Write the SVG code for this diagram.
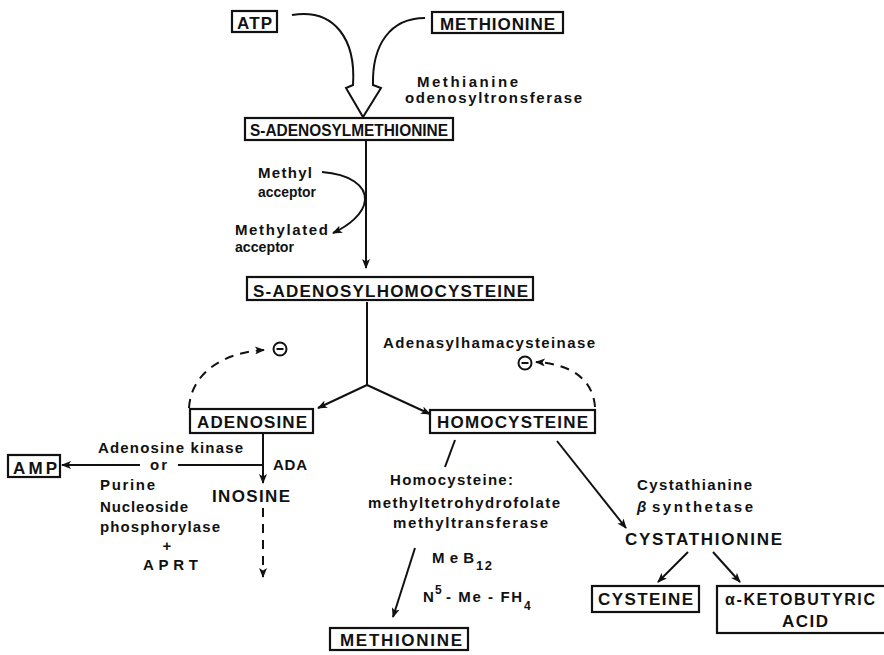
<svg xmlns="http://www.w3.org/2000/svg" width="884" height="655" viewBox="0 0 884 655">
<defs>
<style>
.bx{fill:#fff;stroke:#111;stroke-width:2.2}
.t{font-family:"Liberation Sans",Arial,sans-serif;font-weight:bold;fill:#111}
.bt{font-size:17px}
.lt{font-size:15px}
.ln{fill:none;stroke:#111;stroke-width:2}
.ds{fill:none;stroke:#111;stroke-width:2;stroke-dasharray:9,7}
</style>
<marker id="ah" viewBox="0 0 10 8" refX="9" refY="4" markerWidth="11" markerHeight="8" markerUnits="userSpaceOnUse" orient="auto">
<path d="M0,0 L10,4 L0,8 L2.5,4 Z" fill="#111"/>
</marker>
</defs>
<rect width="884" height="655" fill="#fff"/>

<g id="connectors">
<path class="ln" d="M292,15 C335,8 356,40 353,85 L346,88 L363,117 L381,88 L373,85 C372,45 390,18 425,18"/>
<path class="ln" d="M366,141 L366,268" marker-end="url(#ah)"/>
<path class="ln" d="M322,172 C350,174 366,186 365,200 C364,214 348,226 333,233" marker-end="url(#ah)"/>
<path class="ln" d="M367,302 L367,385"/>
<path class="ln" d="M367,385 L318,408" marker-end="url(#ah)"/>
<path class="ln" d="M367,385 L430,414" marker-end="url(#ah)"/>
<path class="ds" d="M189,408 C191,372 225,352 264,350" marker-end="url(#ah)"/>
<path class="ds" d="M595,407 C593,380 572,364 536,362" marker-end="url(#ah)"/>
<path class="ln" d="M263,433 L263,483" marker-end="url(#ah)"/>
<path class="ln" d="M263,465 L178,465"/>
<path class="ln" d="M140,465 L62,465" marker-end="url(#ah)"/>
<path class="ds" d="M263,508 L263,577" stroke-dasharray="8,6" marker-end="url(#ah)"/>
<path class="ln" d="M455,440 L445,467"/>
<path class="ln" d="M415,548 L393,617" marker-end="url(#ah)"/>
<path class="ln" d="M557,441 L626,528" marker-end="url(#ah)"/>
<path class="ln" d="M688,552 L658,582" marker-end="url(#ah)"/>
<path class="ln" d="M713,552 L740,582" marker-end="url(#ah)"/>
</g>

<g id="inhib-left">
<circle cx="280" cy="349" r="6.5" fill="none" stroke="#111" stroke-width="2"/>
<line x1="276.5" y1="349" x2="283.5" y2="349" stroke="#111" stroke-width="2"/>
</g>
<g id="inhib-right">
<circle cx="525" cy="363" r="6.5" fill="none" stroke="#111" stroke-width="2"/>
<line x1="521.5" y1="363" x2="528.5" y2="363" stroke="#111" stroke-width="2"/>
</g>

<g id="atp">
<rect class="bx" x="232" y="11" width="45" height="21"/>
<text class="t bt" x="237" y="29" textLength="35" lengthAdjust="spacing">ATP</text>
</g>
<g id="methionine-top">
<rect class="bx" x="432" y="12" width="131" height="21"/>
<text class="t bt" x="440" y="30" textLength="115" lengthAdjust="spacing">METHIONINE</text>
</g>
<g id="enzyme-mat">
<text class="t lt" x="417" y="87" textLength="101" lengthAdjust="spacing">Methianine</text>
<text class="t lt" x="405" y="103" textLength="177" lengthAdjust="spacing">odenosyltronsferase</text>
</g>
<g id="sam">
<rect class="bx" x="245" y="118" width="208" height="22"/>
<text class="t" font-size="16" x="250" y="136" textLength="198" lengthAdjust="spacingAndGlyphs">S-ADENOSYLMETHIONINE</text>
</g>
<g id="methyl-acceptor">
<text class="t lt" x="258" y="178" textLength="54" lengthAdjust="spacing">Methyl</text>
<text class="t lt" x="258" y="197" textLength="58" lengthAdjust="spacingAndGlyphs">acceptor</text>
<text class="t lt" x="235" y="235" textLength="93" lengthAdjust="spacing">Methylated</text>
<text class="t lt" x="235" y="252" textLength="59" lengthAdjust="spacingAndGlyphs">acceptor</text>
</g>
<g id="sah">
<rect class="bx" x="247" y="277" width="286" height="23"/>
<text class="t bt" x="253" y="297" textLength="275" lengthAdjust="spacing">S-ADENOSYLHOMOCYSTEINE</text>
</g>
<g id="enzyme-ahc">
<text class="t lt" x="383" y="348" textLength="212" lengthAdjust="spacing">Adenasylhamacysteinase</text>
</g>
<g id="adenosine">
<rect class="bx" x="190" y="409" width="123" height="24"/>
<text class="t bt" x="197" y="428" textLength="110" lengthAdjust="spacing">ADENOSINE</text>
</g>
<g id="homocysteine">
<rect class="bx" x="430" y="410" width="165" height="23"/>
<text class="t bt" x="437" y="428" textLength="151" lengthAdjust="spacing">HOMOCYSTEINE</text>
</g>
<g id="amp">
<rect class="bx" x="8" y="455" width="52" height="22"/>
<text class="t bt" x="13" y="474" textLength="44" lengthAdjust="spacing">AMP</text>
</g>
<g id="kinase-labels">
<text class="t lt" x="98" y="453" textLength="145" lengthAdjust="spacing">Adenosine kinase</text>
<text class="t lt" x="150" y="470" textLength="17" lengthAdjust="spacing">or</text>
<text class="t lt" x="100" y="490" textLength="55" lengthAdjust="spacing">Purine</text>
<text class="t lt" x="100" y="512" textLength="88" lengthAdjust="spacing">Nucleoside</text>
<text class="t lt" x="100" y="532" textLength="120" lengthAdjust="spacing">phosphorylase</text>
<text class="t lt" x="167" y="551" text-anchor="middle">+</text>
<text class="t lt" x="143" y="570" textLength="55" lengthAdjust="spacing">APRT</text>
</g>
<g id="ada">
<text class="t lt" x="273" y="470" textLength="34" lengthAdjust="spacing">ADA</text>
</g>
<g id="inosine">
<text class="t bt" x="212" y="502" textLength="78" lengthAdjust="spacing">INOSINE</text>
</g>
<g id="enzyme-mtr">
<text class="t lt" x="390" y="485" textLength="123" lengthAdjust="spacing">Homocysteine:</text>
<text class="t lt" x="368" y="508" textLength="192" lengthAdjust="spacing">methyltetrohydrofolate</text>
<text class="t lt" x="393" y="528" textLength="155" lengthAdjust="spacing">methyltransferase</text>
<text class="t lt" x="432" y="563" textLength="42" lengthAdjust="spacing">MeB</text>
<text class="t" x="476" y="570" font-size="13" textLength="16" lengthAdjust="spacing">12</text>
<text class="t lt" x="423" y="602">N</text>
<text class="t" x="435" y="594" font-size="12">5</text>
<text class="t lt" x="446" y="602" textLength="76" lengthAdjust="spacing">- Me - FH</text>
<text class="t" x="524" y="610" font-size="12">4</text>
</g>
<g id="methionine-bottom">
<rect class="bx" x="330" y="628" width="138" height="22"/>
<text class="t bt" x="340" y="646" textLength="122" lengthAdjust="spacing">METHIONINE</text>
</g>
<g id="enzyme-cbs">
<text class="t lt" x="637" y="490" textLength="115" lengthAdjust="spacing">Cystathianine</text>
<text class="t lt" x="637" y="512"><tspan font-style="italic">β</tspan><tspan x="652" textLength="101" lengthAdjust="spacing">synthetase</tspan></text>
</g>
<g id="cystathionine">
<text class="t bt" x="625" y="545" textLength="157" lengthAdjust="spacing">CYSTATHIONINE</text>
</g>
<g id="cysteine">
<rect class="bx" x="592" y="586" width="107" height="26"/>
<text class="t bt" x="598" y="605" textLength="95" lengthAdjust="spacing">CYSTEINE</text>
</g>
<g id="ketobutyric">
<rect class="bx" x="717" y="586" width="175" height="47"/>
<text class="t" font-size="16" x="725" y="605" textLength="150" lengthAdjust="spacing">α-KETOBUTYRIC</text>
<text class="t bt" x="782" y="627" textLength="46" lengthAdjust="spacing">ACID</text>
</g>
</svg>
